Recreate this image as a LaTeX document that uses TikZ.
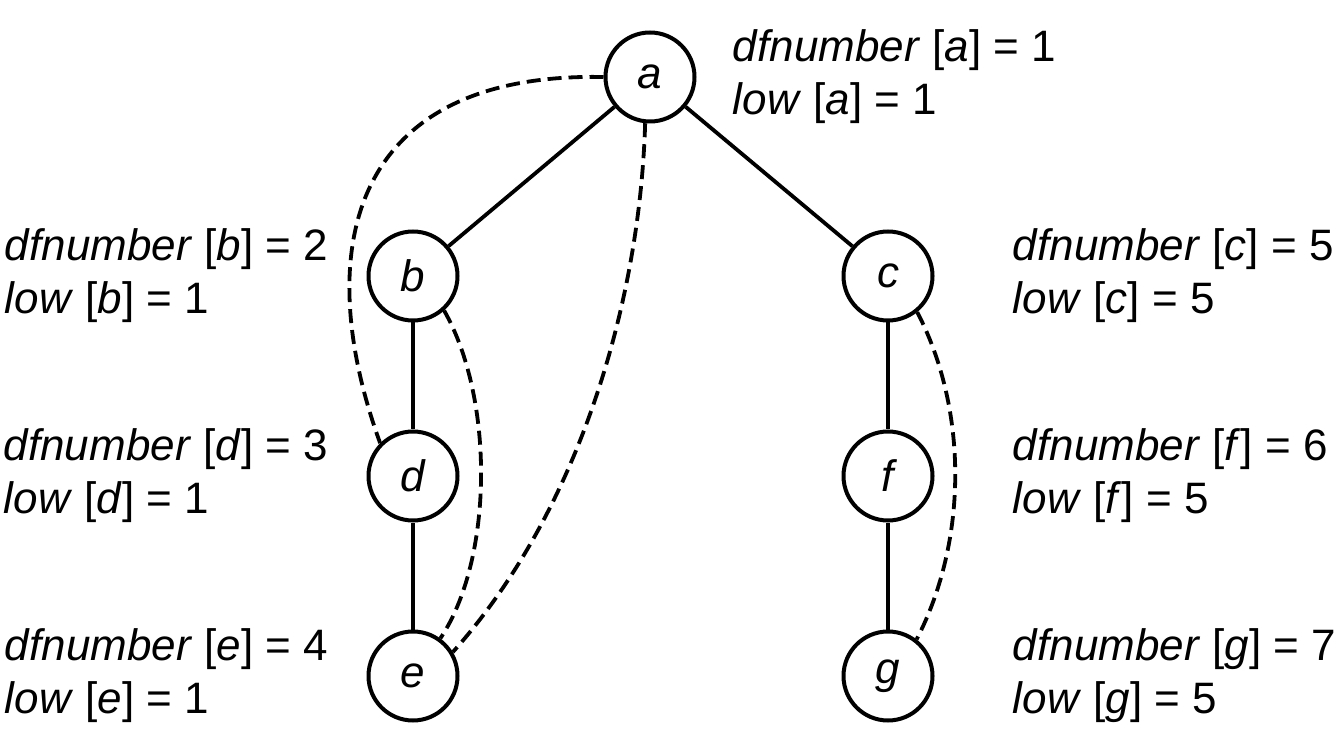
\documentclass[tikz,border=0pt]{standalone}
\usepackage{fontspec}
\setmainfont{Liberation Sans}
\usetikzlibrary{positioning}

\begin{document}
\begin{tikzpicture}
[
	x = 0.5pt, y = -0.5pt,
	vertex/.style	= {circle, draw = black, line width = 2pt, minimum size = 44.5pt, inner sep = 0pt, font = \fontsize{22}{26}\selectfont\itshape},
	info/.style	= {align = left, inner sep = 0pt, font = \fontsize{22}{26.5}\selectfont},
	tree/.style	= {line width = 1.9pt},
	back/.style	= {line width = 1.9pt, dash pattern = on 7pt off 3.5pt},
	node distance = 53.5pt and 20pt,
]
	\useasboundingbox (0,0) rectangle (1344,737);

	\node (a) [vertex] at (650,77) {a};
	\node (b) [vertex] at (413,276) {b};
	\node (c) [vertex] at (888,276) {c};
	%
	\node (d) [vertex, below = of b] {d};
	\node (e) [vertex, below = of d] {e};
	\node (f) [vertex, below = of c] {f};
	\node (g) [vertex, below = of f] {g};

	\node (dfa) [info, right = 18pt of a] {\textit{dfnumber} [\textit{a}] = 1\\ \textit{low} [\textit{a}] = 1};
	%
	\node (dfb) [info, left = 19pt of b] {\textit{dfnumber} [\textit{b}] = 2\\ \textit{low} [\textit{b}] = 1};
	\node (dfd) [info, left = 19pt of d] {\textit{dfnumber} [\textit{d}] = 3\\ \textit{low} [\textit{d}] = 1};
	\node (dfe) [info, left = 19pt of e] {\textit{dfnumber} [\textit{e}] = 4\\ \textit{low} [\textit{e}] = 1};
	%
	\node (dfc) [info, right = 39pt of c] {\textit{dfnumber} [\textit{c}] = 5\\ \textit{low} [\textit{c}] = 5};
	\node (dff) [info, right = 39pt of f] {\textit{dfnumber} [\textit{f}] = 6\\ \textit{low} [\textit{f}] = 5};
	\node (dfg) [info, right = 39pt of g] {\textit{dfnumber} [\textit{g}] = 7\\ \textit{low} [\textit{g}] = 5};

	\draw [tree] (a) -- (b);
	\draw [tree] (a) -- (c);
	\draw [tree] (b) -- (d);
	\draw [tree] (d) -- (e);
	\draw [tree] (c) -- (f);
	\draw [tree] (f) -- (g);

	\draw [back] (a.west) .. controls (350,72) and (310,250) .. (d.north west);
	\draw [back] (a.-96) .. controls (640,300) and (580,510) .. (e.31);
	\draw [back] (b.-48) .. controls (495,400) and (493,560) .. (e.54);
	\draw [back] (c.-51) .. controls (968,410) and (968,540) .. (g.52);

\end{tikzpicture}
\end{document}
